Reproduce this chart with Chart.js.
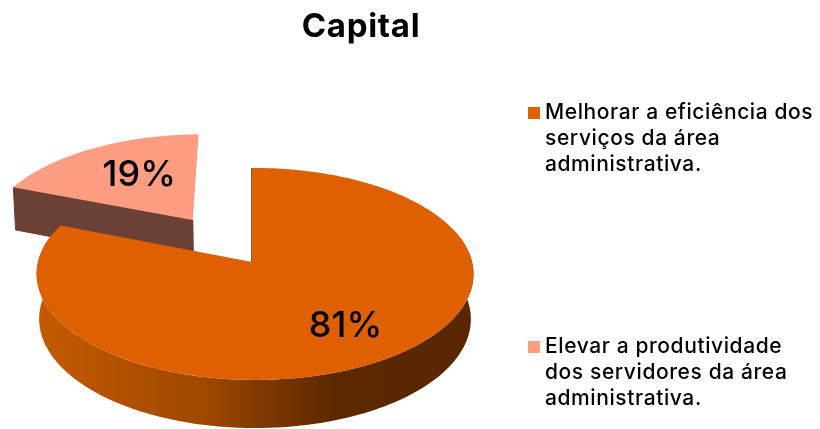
<!DOCTYPE html>
<html lang="pt">
<head>
<meta charset="UTF-8">
<title>Capital</title>
<script src="https://cdn.jsdelivr.net/npm/chart.js"></script>
<style>
    html, body { margin: 0; background: #fff; }
    canvas { display: block; }
</style>
</head>
<body>
<canvas id="myChart" width="820" height="429"></canvas>
<script>
const chartTitle = 'Capital';
const categories = [
    ['Melhorar a eficiência dos', 'serviços da área', 'administrativa.'],
    ['Elevar a produtividade', 'dos servidores da área', 'administrativa.']
];
const values = [81, 19];
const colors = ['#df6000', '#ff9d82'];
const explode = [0, 51]; // percent of the radius
const legendTop = [119, 353]; // baseline of each legend entry's first line

// perspective of the disc: top face and bottom face
const topFace = {cx: 252, cy: 262, a: 217, b: 104.6, k: 0.113, m: 0.0138};
const baseFace = {cx: 252, cy: 307, a: 214.5, b: 107.7, k: 0.11, m: 0.0138};
const labelRadius = [0.69, 0.61];
const labelShift = [3, 10];

function project(face, u, v) {
    const d = 1 - face.k * v - face.m * u;
    return [face.cx + face.a * u / d, face.cy + face.b * v / d];
}

function sliceGeometry(arc) {
    const mid = (arc.startAngle + arc.endAngle) / 2;
    const off = (arc.options.offset || 0) / arc.outerRadius;
    return {mid, ou: Math.cos(mid) * off, ov: Math.sin(mid) * off};
}

function fillPoly(ctx, pts, fill, stroke) {
    ctx.beginPath();
    pts.forEach((p, i) => i ? ctx.lineTo(p[0], p[1]) : ctx.moveTo(p[0], p[1]));
    ctx.closePath();
    ctx.fillStyle = fill;
    ctx.fill();
    if (stroke) {
        ctx.strokeStyle = stroke;
        ctx.lineWidth = 1;
        ctx.stroke();
    }
}

function drawSlice(ctx, arc, wallColor, rimColor) {
    const g = sliceGeometry(arc);
    const rim = (face, a) => project(face, g.ou + Math.cos(a), g.ov + Math.sin(a));
    const apex = face => project(face, g.ou, g.ov);

    // cut face at the start angle, the end one never shows here
    fillPoly(ctx, [rim(topFace, arc.startAngle), apex(topFace), apex(baseFace), rim(baseFace, arc.startAngle)], wallColor, wallColor);

    // outer wall, front part only
    const from = Math.max(arc.startAngle, -0.3);
    const to = Math.min(arc.endAngle, Math.PI + 0.3);
    if (to > from) {
        const upper = [], lower = [];
        for (let i = 0; i <= 240; i++) {
            const a = from + (to - from) * i / 240;
            upper.push(rim(topFace, a));
            lower.unshift(rim(baseFace, a));
        }
        fillPoly(ctx, upper.concat(lower), rimColor);
    }

    // top face
    const pts = [apex(topFace)];
    for (let i = 0; i <= 240; i++) {
        pts.push(rim(topFace, arc.startAngle + (arc.endAngle - arc.startAngle) * i / 240));
    }
    fillPoly(ctx, pts, arc.options.backgroundColor);
}

const pie3d = {
    id: 'pie3d',
    beforeDatasetsDraw(chart) {
        const ctx = chart.ctx;
        const arcs = chart.getDatasetMeta(0).data;
        const rimGrad = ctx.createLinearGradient(37, 0, 473, 0);
        rimGrad.addColorStop(0, '#c45a00');
        rimGrad.addColorStop(0.4, '#9c4700');
        rimGrad.addColorStop(0.5, '#823a00');
        rimGrad.addColorStop(0.68, '#5c2900');
        rimGrad.addColorStop(1, '#582600');
        drawSlice(ctx, arcs[1], '#6b4035', '#6b4035');
        drawSlice(ctx, arcs[0], '#5c2900', rimGrad);
        return false;
    },
    afterDraw(chart) {
        const ctx = chart.ctx;
        const arcs = chart.getDatasetMeta(0).data;
        ctx.save();
        ctx.fillStyle = '#000';

        // title
        ctx.textAlign = 'center';
        ctx.textBaseline = 'alphabetic';
        ctx.font = '700 33px Inter';
        ctx.letterSpacing = '0.7px';
        ctx.fillText(chartTitle, 361, 37);

        // slice labels
        ctx.textBaseline = 'middle';
        ctx.font = '500 36px Inter';
        ctx.letterSpacing = '0px';
        arcs.forEach((arc, i) => {
            const g = sliceGeometry(arc);
            const p = project(topFace, g.ou + Math.cos(g.mid) * labelRadius[i], g.ov + Math.sin(g.mid) * labelRadius[i]);
            ctx.fillText(values[i] + '%', p[0] + labelShift[i], p[1]);
        });

        // legend
        ctx.textAlign = 'left';
        ctx.textBaseline = 'alphabetic';
        ctx.font = '500 21px Inter';
        ctx.letterSpacing = '0.6px';
        categories.forEach((lines, i) => {
            ctx.fillStyle = colors[i];
            ctx.fillRect(528, legendTop[i] - 12, 12, 12);
            ctx.fillStyle = '#000';
            lines.forEach((line, j) => ctx.fillText(line, 545, legendTop[i] + j * 26));
        });
        ctx.restore();
    }
};

new Chart(document.getElementById('myChart'), {
    type: 'pie',
    data: {
        labels: categories,
        datasets: [{
            data: values,
            backgroundColor: colors,
            offset: explode,
            borderWidth: 0
        }]
    },
    options: {
        responsive: false,
        animation: false,
        events: [],
        radius: 100,
        plugins: {
            legend: {display: false},
            tooltip: {enabled: false}
        }
    },
    plugins: [pie3d]
});
</script>
</body>
</html>
